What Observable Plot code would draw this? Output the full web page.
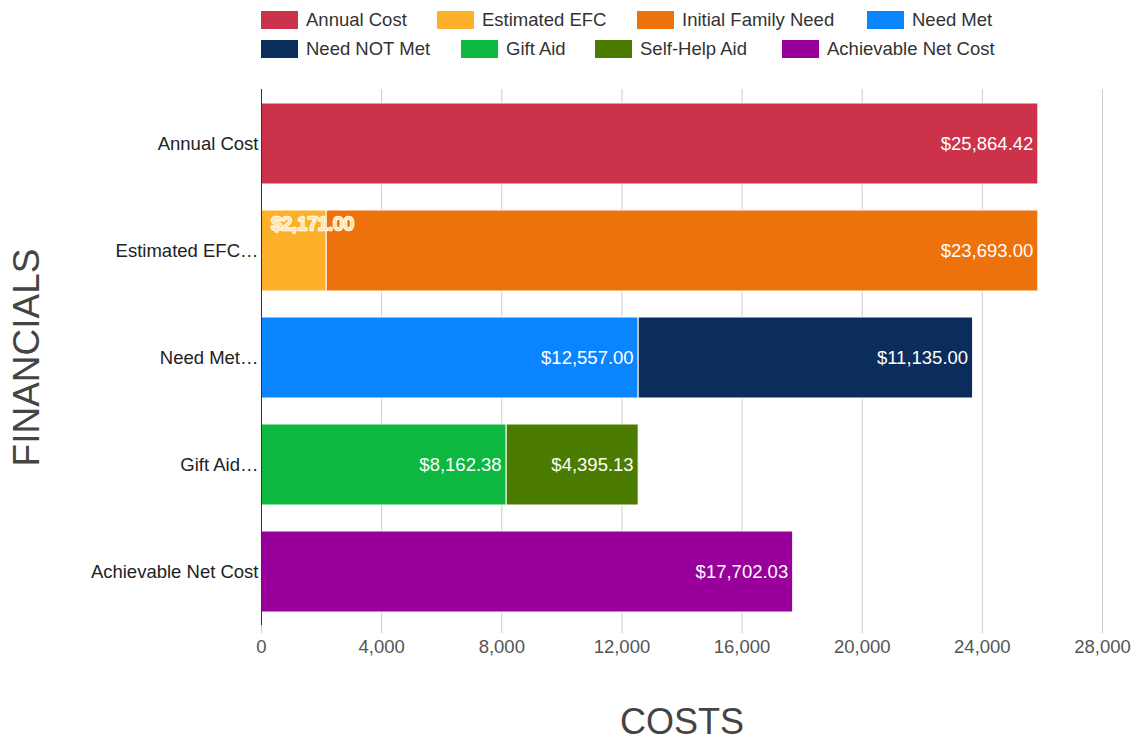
<!DOCTYPE html>
<html>
<head>
<meta charset="utf-8">
<script src="https://cdn.jsdelivr.net/npm/d3@7"></script>
<script src="https://cdn.jsdelivr.net/npm/@observablehq/plot@0.6"></script>
<style>
  html, body { margin: 0; padding: 0; background: #fff; }
  body { width: 1134px; height: 744px; overflow: hidden; font-family: "Liberation Sans", Arial, sans-serif; }
  #legend { position: relative; height: 75px; }
  .item { position: absolute; display: flex; align-items: center; font-size: 18.5px; color: #333; white-space: nowrap; height: 18px; }
  .sw { width: 37px; height: 18px; margin-right: 8px; }
</style>
</head>
<body>
<div id="legend"></div>
<div id="chart"></div>
<script>
// ---- data ----
const categories = ["Annual Cost", "Estimated EFC…", "Need Met…", "Gift Aid…", "Achievable Net Cost"];
const seriesNames = ["Annual Cost", "Estimated EFC", "Initial Family Need", "Need Met", "Need NOT Met", "Gift Aid", "Self-Help Aid", "Achievable Net Cost"];
const seriesCategory = [0, 1, 1, 2, 2, 3, 3, 4];
const seriesValues = [25864.42, 2171.00, 23693.00, 12557.00, 11135.00, 8162.38, 4395.13, 17702.03];
const seriesColors = ["#cc3249", "#fdb02a", "#ee720b", "#0a84ff", "#0a2d5c", "#0cb83f", "#4b7c00", "#99009b"];
const xTicks = [0, 4000, 8000, 12000, 16000, 20000, 24000, 28000];

// legend layout (rows / left offsets)
const legendRow = [0, 0, 0, 0, 1, 1, 1, 1];
const legendLeft = [261, 437, 637, 867, 261, 461, 595, 782];

const legend = document.getElementById("legend");
seriesNames.forEach((name, i) => {
  const it = document.createElement("div");
  it.className = "item";
  it.style.left = legendLeft[i] + "px";
  it.style.top = (11 + legendRow[i] * 29) + "px";
  it.innerHTML = `<div class="sw" style="background:${seriesColors[i]}"></div><span>${name}</span>`;
  legend.appendChild(it);
});

const rows = seriesNames.map((s, i) => ({series: s, cat: categories[seriesCategory[i]], value: seriesValues[i]}));
const fmt = d => "$" + d3.format(",.2f")(d);

const chart = Plot.plot({
  width: 1134,
  height: 669,
  marginTop: 14,
  marginBottom: 119,
  marginLeft: 261,
  marginRight: 32,
  style: {fontFamily: "'Liberation Sans', Arial, sans-serif", background: "white"},
  x: {domain: [0, 28000]},
  y: {domain: categories, paddingInner: 0.245, paddingOuter: 0.12},
  color: {domain: seriesNames, range: seriesColors},
  marks: [
    Plot.gridX(xTicks, {stroke: "#ccc", strokeOpacity: 1}),
    Plot.axisX(xTicks, {tickSize: 8, stroke: "#ccc", strokeOpacity: 1, tickPadding: 6, fontSize: 18.5, fill: "#555", tickFormat: d3.format(","), label: null}),
    Plot.axisY({tickSize: 0, tickPadding: 3, fontSize: 18.5, fill: "#222", label: null}),
    Plot.barX(rows, Plot.stackX({x: "value", y: "cat", fill: "series", stroke: "white", strokeWidth: 1})),
    Plot.ruleX([0], {stroke: "#333", strokeWidth: 1}),
    Plot.text(rows, Plot.stackX2({
      x: "value", y: "cat",
      text: d => d.series === "Estimated EFC" ? null : fmt(d.value),
      textAnchor: "end", dx: -5, fill: "white", fontSize: 18.5
    })),
    Plot.text(rows.filter(d => d.series === "Estimated EFC"), {
      x: d => 0, y: "cat", text: d => fmt(d.value),
      textAnchor: "start", dx: 10, dy: -27, fontSize: 18.5,
      fill: "#fde3a6", stroke: "#fff8e6", strokeWidth: 2.5, paintOrder: "stroke"
    }),
    Plot.text(["FINANCIALS"], {frameAnchor: "left", textAnchor: "middle", dx: -234, rotate: -90, fontSize: 37, fill: "#444", text: d => d}),
    Plot.text(["COSTS"], {frameAnchor: "bottom", dy: 97, lineAnchor: "middle", fontSize: 36, fill: "#444", text: d => d})
  ]
});
document.getElementById("chart").appendChild(chart);
</script>
</body>
</html>
